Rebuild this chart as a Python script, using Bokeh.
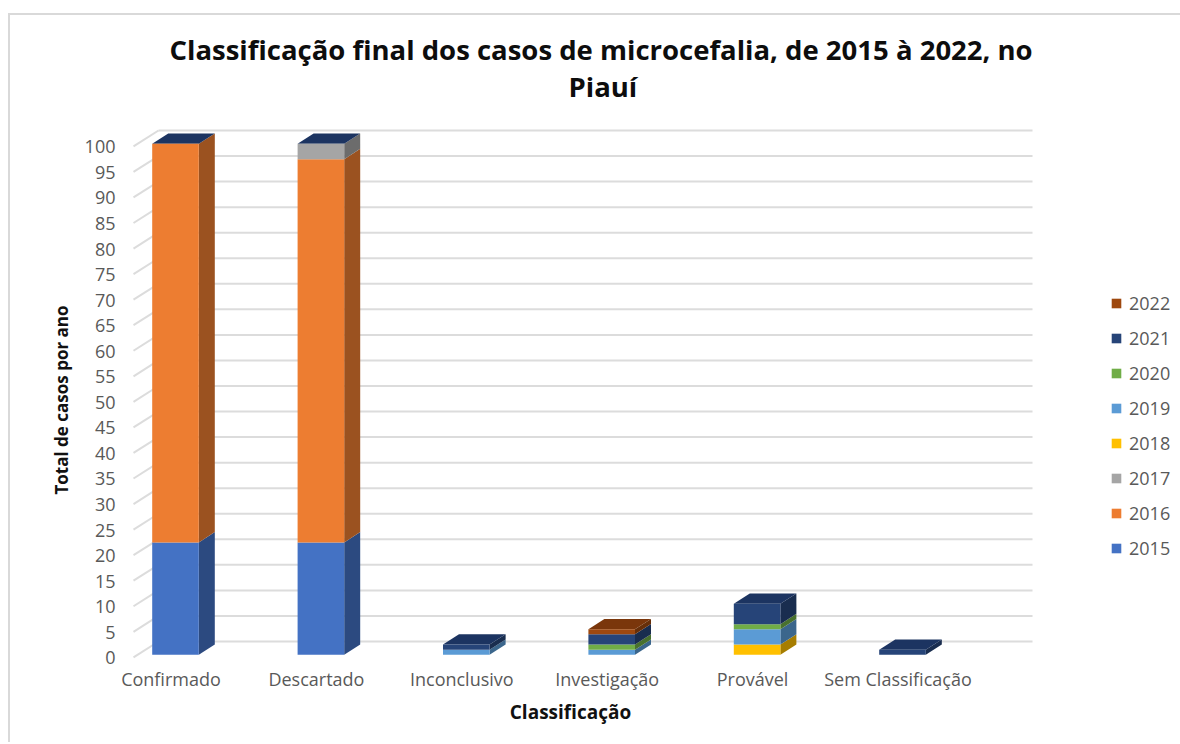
from bokeh.plotting import figure
from bokeh.embed import file_html
from bokeh.resources import INLINE
from bokeh.models import (ColumnDataSource, FixedTicker, Legend, LegendItem, Range1d,
                          LinearAxis, InlineStyleSheet, Title)
import numpy as np

categories = ["Confirmado", "Descartado", "Inconclusivo", "Investigação", "Provável", "Sem Classificação"]
years = ["2015", "2016", "2017", "2018", "2019", "2020", "2021", "2022"]
v2015 = [22, 22, 0, 0, 0, 0]
v2016 = [78, 75, 0, 0, 0, 0]
v2017 = [0, 3, 0, 0, 0, 0]
v2018 = [0, 0, 0, 0, 2, 0]
v2019 = [0, 0, 1, 1, 3, 0]
v2020 = [0, 0, 0, 1, 1, 0]
v2021 = [0, 0, 1, 2, 4, 1]
v2022 = [0, 0, 0, 1, 0, 0]
yticks = list(range(0, 105, 5))
series = [v2015, v2016, v2017, v2018, v2019, v2020, v2021, v2022]

front = ["#4472C4", "#ED7D31", "#A5A5A5", "#FFC000", "#5B9BD5", "#70AD47", "#264478", "#9E480E"]
side = ["#2C4A80", "#9B5220", "#6C6C6C", "#A67D00", "#3B668C", "#49712E", "#192D4F", "#672F09"]
cap = {"2021": "#1C3461", "2022": "#7A360B"}

# pixel geometry of the plot frame
PX_X = 145.4
PX_Y = 5.11
FRAME_L, FRAME_T, FRAME_W, FRAME_H = 104, 128, 932, 543
X0, Y0 = 175.0, 654.3
xr = Range1d((FRAME_L - X0) / PX_X, (FRAME_L + FRAME_W - X0) / PX_X)
yr = Range1d((Y0 - FRAME_T - FRAME_H) / PX_Y, (Y0 - FRAME_T) / PX_Y)
w = 46.6 / PX_X
dx, dy = 16 / PX_X, 10.3 / PX_Y

p = figure(width=1178, height=742, output_backend="svg", toolbar_location=None,
           x_range=xr, y_range=yr, frame_width=FRAME_W, frame_height=FRAME_H,
           min_border_left=FRAME_L, min_border_top=FRAME_T,
           min_border_right=142, min_border_bottom=71,
           background_fill_color="white", border_fill_color="white", outline_line_color=None)
p.grid.visible = False
p.axis.visible = False

# chart-area border (top and left edges of the chart's surround)
p.stylesheets = [InlineStyleSheet(css=":host::after {content: ''; position: absolute; left: 8px; top: 13px; "
                                      "right: 0; bottom: 0; border-left: 2px solid #D9D9D9; "
                                      "border-top: 2px solid #D9D9D9; pointer-events: none;}")]

# chart wall grid and floor ticks
gx0, gx1 = (158 - X0) / PX_X, (1032 - X0) / PX_X
wall = 13.3 / PX_Y
p.segment(x0=[gx0] * len(yticks), x1=[gx1] * len(yticks),
          y0=[t + wall for t in yticks], y1=[t + wall for t in yticks],
          line_color="#DCDCDC", line_width=2)
sx = (133 - X0) / PX_X
p.segment(x0=[sx] * len(yticks), x1=[gx0] * len(yticks),
          y0=[t - 0.5 for t in yticks], y1=[t + wall for t in yticks],
          line_color="#DCDCDC", line_width=2)

# side faces
xs_s, ys_s, col_s = [], [], []
bottom = np.zeros(len(categories))
for vals, c in zip(series, side):
    vals = np.array(vals, dtype=float)
    for i, v in enumerate(vals):
        if v > 0:
            r = i + w / 2
            b, t = bottom[i], bottom[i] + v
            xs_s.append([r, r + dx, r + dx, r])
            ys_s.append([b, b + dy, t + dy, t])
            col_s.append(c)
    bottom += vals
p.patches(xs_s, ys_s, fill_color=col_s, line_color=None)

# top caps
xs_c, ys_c, col_c = [], [], []
for i in range(len(categories)):
    t = bottom[i]
    l, r = i - w / 2, i + w / 2
    xs_c.append([l, r, r + dx, l + dx])
    ys_c.append([t, t, t + dy, t + dy])
    col_c.append(cap["2022"] if v2022[i] > 0 else cap["2021"])
p.patches(xs_c, ys_c, fill_color=col_c, line_color=None)

# front faces
data = {"x": list(range(len(categories)))}
data.update({y: s for y, s in zip(years, series)})
src = ColumnDataSource(data)
rs = p.vbar_stack(years, x="x", width=w, color=front, line_color=None, source=src)

# axes
xshift = 4.5 / PX_X
p.extra_x_ranges = {"labx": Range1d(xr.start + xshift, xr.end + xshift)}
xa = LinearAxis(x_range_name="labx", ticker=FixedTicker(ticks=list(range(len(categories)))),
                major_label_overrides={i: c for i, c in enumerate(categories)},
                axis_label="Classificação")
xa.axis_line_color = None
xa.major_tick_line_color = None
xa.minor_tick_line_color = None
xa.major_tick_out = 0
xa.major_tick_in = 0
xa.major_label_text_font = "Open Sans"
xa.major_label_text_font_size = "18px"
xa.major_label_text_color = "#595959"
xa.major_label_standoff = -5
xa.axis_label_text_font = "Open Sans"
xa.axis_label_text_font_style = "bold"
xa.axis_label_text_font_size = "19px"
xa.axis_label_text_color = "#111111"
xa.axis_label_standoff = 5
p.add_layout(xa, "below")

shift = 3 / PX_Y
p.extra_y_ranges = {"lab": Range1d(yr.start + shift, yr.end + shift)}
ya = LinearAxis(y_range_name="lab", ticker=FixedTicker(ticks=yticks), axis_label="Total de casos por ano")
ya.axis_line_color = None
ya.major_tick_line_color = None
ya.minor_tick_line_color = None
ya.major_tick_out = 0
ya.major_tick_in = 0
ya.major_label_text_font = "Open Sans"
ya.major_label_text_font_size = "18px"
ya.major_label_text_color = "#595959"
ya.major_label_standoff = -11
ya.axis_label_text_font = "Open Sans"
ya.axis_label_text_font_style = "bold"
ya.axis_label_text_font_size = "17px"
ya.axis_label_text_color = "#111111"
ya.axis_label_standoff = 9
p.add_layout(ya, "left")

# title
p.title = None
p.add_layout(Title(text=" ", text_font_size="21px", standoff=0), "above")
p.add_layout(Title(text="Piauí", align="left", offset=464, text_font="Open Sans", text_font_style="bold",
                   text_font_size="27.5px", text_color="#0D0D0D", standoff=-3), "above")
p.add_layout(Title(text="Classificação final dos casos de microcefalia, de 2015 à 2022, no",
                   align="left", offset=65, text_font="Open Sans", text_font_style="bold",
                   text_font_size="27.5px", text_color="#0D0D0D", standoff=0), "above")

# legend
items = [LegendItem(label=y, renderers=[r]) for y, r in zip(reversed(years), reversed(rs))]
leg = Legend(items=items, location=(74, 111), orientation="vertical", border_line_color=None,
             background_fill_alpha=0, glyph_width=12, glyph_height=12, label_standoff=7,
             spacing=11, padding=0, margin=0, label_text_font="Open Sans", label_text_font_size="18px",
             label_text_color="#595959", label_height=20)
p.add_layout(leg, "right")

open("out.html", "w").write(file_html(p, INLINE))
